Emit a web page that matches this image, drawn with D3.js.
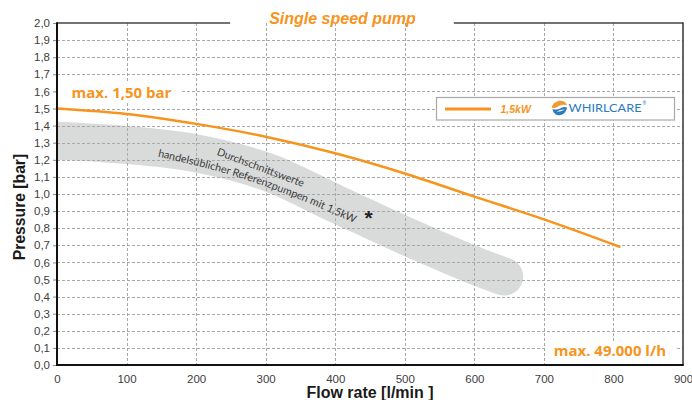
<!DOCTYPE html>
<html><head><meta charset="utf-8">
<script src="https://cdn.jsdelivr.net/npm/d3@7"></script>
<style>body{margin:0;background:#fff}svg{display:block}</style>
</head><body><svg id="c" width="692" height="400"></svg>
<script>
// ---- data ----
const flowTicks = [0, 100, 200, 300, 400, 500, 600, 700, 800, 900];
const pressureTicks = [0, 0.1, 0.2, 0.3, 0.4, 0.5, 0.6, 0.7, 0.8, 0.9, 1.0, 1.1, 1.2, 1.3, 1.4, 1.5, 1.6, 1.7, 1.8, 1.9, 2.0];
const pumpFlow = [0, 100, 200, 300, 400, 500, 600, 700, 810];
const pumpPressure = [1.50, 1.468, 1.41, 1.335, 1.238, 1.12, 0.985, 0.852, 0.69];
const bandFlow = [0, 100, 200, 300, 400, 500, 600, 643];
const bandPressure = [1.312, 1.287, 1.238, 1.132, 0.945, 0.757, 0.583, 0.517];
const note1Flow = [227, 355];
const note1Pressure = [1.232, 1.038];
const note2Flow = [143.8, 248.7, 349.3, 428.4];
const note2Pressure = [1.220, 1.113, 0.967, 0.828];
const markerFlow = [448];
const markerPressure = [0.889];
const chartTitle = "Single speed pump";
const seriesName = "1,5kW";
const brandName = "WHIRLCARE";
const note1Text = "Durchschnittswerte";
const note2Text = "handelsüblicher Referenzpumpen mit 1,5kW";
const maxPressureText = "max. 1,50 bar";
const maxFlowText = "max. 49.000 l/h";
const xTitle = "Flow rate [l/min ]";
const yTitle = "Pressure [bar]";

// ---- setup ----
const L = 57, R = 683, T = 23, B = 365;
const orange = "#f7941d";
const svg = d3.select("#c");
const x = d3.scaleLinear().domain([0, 900]).range([L, R]);
const y = d3.scaleLinear().domain([0, 2]).range([B, T]);
const loc = d3.formatLocale({decimal: ",", thousands: ".", grouping: [3], currency: ["", ""]});
const fmt1 = loc.format(".1f");

const defs = svg.append("defs");
defs.append("clipPath").attr("id", "plot")
  .append("rect").attr("x", L).attr("y", T).attr("width", R - L).attr("height", B - T);

// gray band
const band = bandFlow.map((f, i) => [f, bandPressure[i]]);
svg.append("path")
  .attr("clip-path", "url(#plot)")
  .attr("d", d3.line().x(d => x(d[0])).y(d => y(d[1])).curve(d3.curveCatmullRom)(band))
  .attr("fill", "none").attr("stroke", "#d9dada").attr("stroke-width", 38)
  .attr("stroke-linecap", "round");

// grid
const grid = svg.append("g").attr("stroke", "#a9a9a9").attr("stroke-width", 1).attr("stroke-dasharray", "3,2");
grid.selectAll("line.h").data(pressureTicks.filter(p => p > 0 && p < 2)).join("line")
  .attr("x1", L).attr("x2", R).attr("y1", d => Math.round(y(d)) + 0.5).attr("y2", d => Math.round(y(d)) + 0.5);
grid.selectAll("line.v").data(flowTicks.filter(f => f > 0 && f < 900)).join("line")
  .attr("y1", T).attr("y2", B).attr("x1", d => Math.round(x(d)) + 0.5).attr("x2", d => Math.round(x(d)) + 0.5);

// pump curve
const pump = pumpFlow.map((f, i) => [f, pumpPressure[i]]);
svg.append("path")
  .attr("d", d3.line().x(d => x(d[0])).y(d => y(d[1])).curve(d3.curveMonotoneX)(pump))
  .attr("fill", "none").attr("stroke", orange).attr("stroke-width", 2.5);

// band annotation texts
const lineGen = d3.line().x(d => x(d[0])).y(d => y(d[1])).curve(d3.curveCatmullRom);
defs.append("path").attr("id", "n1").attr("d", lineGen(note1Flow.map((f, i) => [f, note1Pressure[i]])));
defs.append("path").attr("id", "n2").attr("d", lineGen(note2Flow.map((f, i) => [f, note2Pressure[i]])));
[["#n1", note1Text], ["#n2", note2Text]].forEach(([id, t]) => {
  svg.append("text").attr("font-family", "Lato, 'Open Sans', sans-serif").attr("font-size", 10.7)
    .attr("fill", "#3a3a3a").attr("text-anchor", "middle")
    .append("textPath").attr("href", id).attr("startOffset", "50%").text(t);
});
svg.append("text").attr("x", x(markerFlow[0])).attr("y", y(markerPressure[0]) + 12)
  .attr("text-anchor", "middle").attr("font-family", "'Liberation Sans', Arial, sans-serif")
  .attr("font-weight", "bold").attr("font-size", 21).attr("fill", "#222").text("*");

// max labels with white background
svg.append("rect").attr("x", L + 1).attr("y", 82).attr("width", 122).attr("height", 21).attr("fill", "#fff");
svg.append("text").attr("x", 71.5).attr("y", 97.5).attr("font-family", "'Open Sans', sans-serif")
  .attr("font-weight", "bold").attr("font-size", 15).attr("fill", orange).text(maxPressureText);
svg.append("rect").attr("x", 547).attr("y", 342).attr("width", 130).attr("height", 22).attr("fill", "#fff");
svg.append("text").attr("x", 666).attr("y", 355.5).attr("text-anchor", "end").attr("font-family", "'Open Sans', sans-serif")
  .attr("font-weight", "bold").attr("font-size", 15).attr("fill", orange).text(maxFlowText);

// legend
const lg = svg.append("g");
lg.append("rect").attr("x", 436.5).attr("y", 97.5).attr("width", 238).attr("height", 22.5)
  .attr("fill", "#fff").attr("stroke", "#a8a8a8").attr("stroke-width", 1.2);
lg.append("line").attr("x1", 445).attr("x2", 491).attr("y1", 109).attr("y2", 109)
  .attr("stroke", orange).attr("stroke-width", 3);
lg.append("text").attr("x", 500.5).attr("y", 112.8).attr("font-family", "'Liberation Sans', Arial, sans-serif")
  .attr("font-weight", "bold").attr("font-style", "italic").attr("font-size", 10.5).attr("fill", orange).text(seriesName);
const icon = lg.append("g").attr("transform", "translate(559.5,108)");
icon.append("path").attr("fill", "#f39a2c")
  .attr("d", "M-8,-0.5 C-6,-6 -1,-8 3,-7 C5.5,-6.5 7,-4.5 7.5,-2.5 C5,-4 1,-3.5 -1.5,-1.5 C-3.5,0 -6,0.5 -8,-0.5 Z");
icon.append("path").attr("fill", "#2b7bbf")
  .attr("d", "M-7,1 C-4,2 -1,1.5 1.5,0 C4,-1.5 6,-1.2 7.5,-0.5 C7,4 3.5,7.5 -1,7.2 C-4,7 -6.5,4.5 -7,1 Z");
icon.append("path").attr("fill", "#fff")
  .attr("d", "M-3,3.5 C0,2 3,1.2 5.5,1.5 C3,2.8 0,3.8 -3,3.5 Z");
lg.append("text").attr("x", 568.5).attr("y", 111.8).attr("font-family", "Lato, 'Open Sans', sans-serif")
  .attr("font-size", 10.8).attr("fill", "#2b7bbf").attr("textLength", 73).attr("lengthAdjust", "spacingAndGlyphs").text(brandName);
lg.append("text").attr("x", 642.5).attr("y", 105).attr("font-family", "'Open Sans', sans-serif")
  .attr("font-size", 4.5).attr("fill", "#2b7bbf").text("®");

// axes
const yAxis = svg.append("g").attr("transform", `translate(${L},0)`)
  .call(d3.axisLeft(y).tickValues(pressureTicks).tickFormat(fmt1).tickSize(4).tickPadding(3));
yAxis.select(".domain").remove();
yAxis.selectAll("line").attr("stroke", "#8a8a8a");
yAxis.selectAll("text").attr("font-family", "'Liberation Sans', Arial, sans-serif").attr("font-size", 11.5).attr("fill", "#404040");
const xAxis = svg.append("g").attr("transform", `translate(0,${B})`)
  .call(d3.axisBottom(x).tickValues(flowTicks).tickFormat(d3.format("d")).tickSize(0).tickPadding(9.5));
xAxis.select(".domain").remove();
xAxis.selectAll("text").attr("font-family", "'Liberation Sans', Arial, sans-serif").attr("font-size", 11.5).attr("fill", "#404040");

// frame
const titleText = svg.append("text").attr("x", 342.5).attr("y", 23.5).attr("text-anchor", "middle")
  .attr("font-family", "'Liberation Sans', Arial, sans-serif").attr("font-weight", "bold").attr("font-style", "italic")
  .attr("font-size", 16).attr("fill", orange).text(chartTitle);
const tw = titleText.node().getComputedTextLength();
const gapL = 342.5 - tw / 2 - 39, gapR = 342.5 + tw / 2 + 38;
svg.append("line").attr("x1", L).attr("x2", gapL).attr("y1", T).attr("y2", T).attr("stroke", "#444").attr("stroke-width", 1.5);
svg.append("line").attr("x1", gapR).attr("x2", R).attr("y1", T).attr("y2", T).attr("stroke", "#444").attr("stroke-width", 1.5);
svg.append("line").attr("x1", R).attr("x2", R).attr("y1", T - 0.75).attr("y2", B).attr("stroke", "#333").attr("stroke-width", 1.5);
svg.append("line").attr("x1", L).attr("x2", L).attr("y1", T - 0.75).attr("y2", B + 1).attr("stroke", "#111").attr("stroke-width", 2);
svg.append("line").attr("x1", L - 1).attr("x2", R + 0.75).attr("y1", B).attr("y2", B).attr("stroke", "#111").attr("stroke-width", 2);

// axis titles
svg.append("text").attr("x", (L + R) / 2).attr("y", 397.5).attr("text-anchor", "middle")
  .attr("font-family", "'Liberation Sans', Arial, sans-serif").attr("font-weight", "bold").attr("font-size", 16)
  .attr("fill", "#1a1a1a").text(xTitle);
svg.append("text").attr("transform", "translate(24.5,207) rotate(-90)").attr("text-anchor", "middle")
  .attr("font-family", "'Liberation Sans', Arial, sans-serif").attr("font-weight", "bold").attr("font-size", 15.7)
  .attr("fill", "#1a1a1a").text(yTitle);
</script></body></html>
